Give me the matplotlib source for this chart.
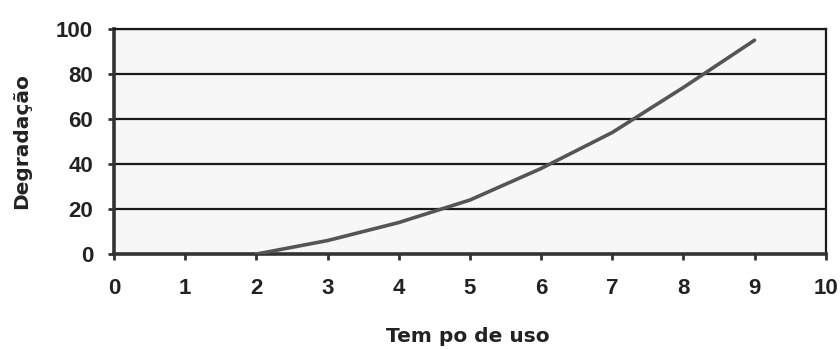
import matplotlib.pyplot as plt

tempo = [2, 3, 4, 5, 6, 7, 8, 9]
degradacao = [0, 6, 14, 24, 38, 54, 74, 95]
x_ticks = list(range(0, 11))
y_ticks = [0, 20, 40, 60, 80, 100]

plt.rcParams['font.family'] = ['Liberation Sans', 'DejaVu Sans']

fig = plt.figure(figsize=(8.4, 3.49), dpi=100)
ax = fig.add_axes([0.1357, 0.272, 0.983 - 0.1357, 0.917 - 0.272])
ax.set_facecolor('#f7f7f7')

for y in y_ticks[1:]:
    ax.axhline(y, color='#1a1a1a', lw=1.6, zorder=1)

ax.plot(tempo, degradacao, color='#555555', lw=2.6, zorder=3,
        solid_capstyle='round')

ax.set_xlim(0, 10)
ax.set_ylim(0, 100)
ax.set_xticks(x_ticks)
ax.set_yticks(y_ticks)

for s in ['left', 'bottom']:
    ax.spines[s].set_linewidth(2.6)
    ax.spines[s].set_color('#333333')
for s in ['top', 'right']:
    ax.spines[s].set_linewidth(1.6)
    ax.spines[s].set_color('#1a1a1a')

ax.tick_params(axis='x', direction='out', length=4, width=2, color='#333333',
               pad=13, labelsize=16, labelcolor='#222222')
ax.tick_params(axis='y', direction='out', length=4, width=2, color='#333333',
               pad=11, labelsize=16, labelcolor='#222222')
for lbl in ax.get_xticklabels() + ax.get_yticklabels():
    lbl.set_fontweight('bold')

# axis titles (the original has loose letter spacing, DejaVu bold is wider)
fig.text(468 / 840, 1 - 337 / 349, 'Tem po de uso', fontsize=14.5,
         fontweight='bold', color='#222222', family='DejaVu Sans',
         ha='center', va='center')
fig.text(22 / 840, 1 - 141 / 349, 'Degradação', fontsize=14.5,
         fontweight='bold', color='#222222', family='DejaVu Sans',
         rotation=90, ha='center', va='center')

fig.savefig('out.png', dpi=100)
